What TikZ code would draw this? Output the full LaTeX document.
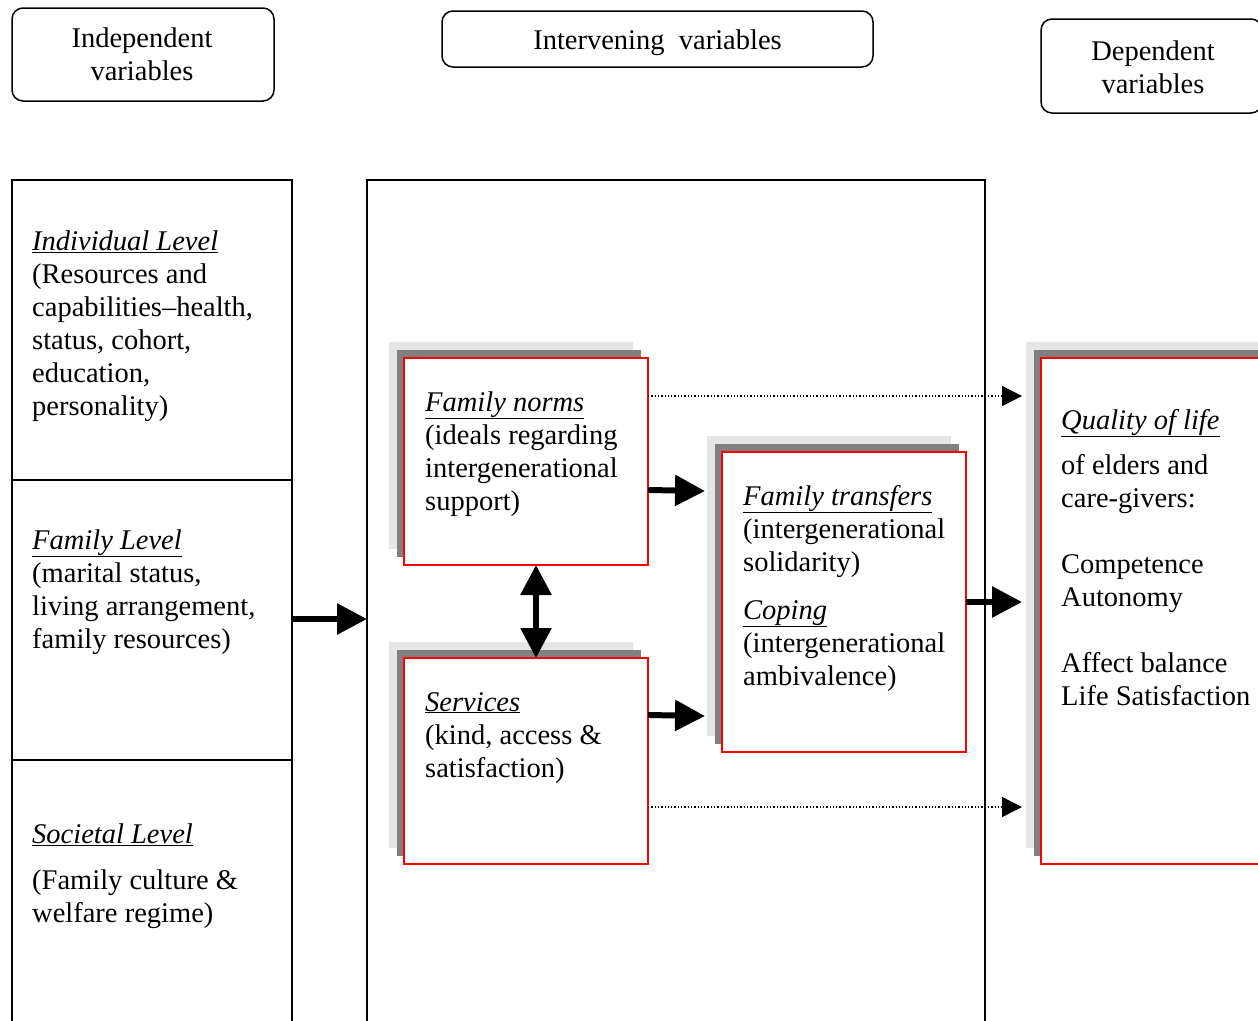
\documentclass[tikz,border=0pt]{standalone}
\usepackage{fontspec}
\setmainfont{Liberation Serif}
\usetikzlibrary{arrows.meta}
\newcommand\mybox[5]{%
  \node[lightsh, minimum width=#4, minimum height=#5] (#1l) at (#2-15,#3-16) {};
  \node[darksh, minimum width=#4, minimum height=#5] (#1d) at (#2-7,#3-8) {};
  \node[redbox, minimum width=#4, minimum height=#5] (#1) at (#2,#3) {};
}
\newcommand\lines[1]{\begin{tabular}[t]{@{}l@{}}#1\end{tabular}}
\begin{document}
\begin{tikzpicture}[x=1pt,y=-1pt,
  txt/.style={font=\fontsize{28.5}{33}\selectfont, inner sep=0pt, anchor=base west},
  hdr/.style={draw, line width=1.5, rounded corners=11, inner sep=0pt, outer sep=0pt},
  htxt/.style={font=\fontsize{28.5}{33}\selectfont, align=center, inner sep=0pt},
  col/.style={draw, line width=1.5, inner sep=0pt, outer sep=0pt},
  lightsh/.style={fill=black!10, inner sep=0pt, outer sep=0pt},
  darksh/.style={fill=black!50, inner sep=0pt, outer sep=0pt},
  redbox/.style={draw=red, line width=2, fill=white, inner sep=0pt, outer sep=0pt},
  thick arrow/.style={line width=6, -{Triangle[length=30,width=30]}},
  dbl arrow/.style={line width=6, {Triangle[length=30,width=30]}-{Triangle[length=30,width=30]}},
  dot arrow/.style={line width=1.3, dash pattern=on 1.3 off 2, -{Triangle[length=20,width=20]}},
]
\useasboundingbox (0,0) rectangle (1258,1020);
\clip (0,0) rectangle (1258,1020);
\fill[white] (0,0) rectangle (1258,1020);

% header boxes
\node[hdr, minimum width=262, minimum height=93] (ind) at (143,54.5) {};
\node[hdr, minimum width=431, minimum height=56] (int) at (657.5,39) {};
\node[hdr, minimum width=221, minimum height=94] (dep) at (1151.5,66) {};
\node[htxt] (indt) at (142,54.5) {Independent\\variables};
\node[htxt] (intt) at (657.5,43) {Intervening\ \ variables};
\node[htxt] (dept) at (1153,67) {Dependent\\variables};

% left column
\node[col, minimum width=280, minimum height=300] (lv1) at (152,330) {};
\node[col, minimum width=280, minimum height=280] (lv2) at (152,620) {};
\node[col, minimum width=280, minimum height=280] (lv3) at (152,900) {};
% middle box
\node[col, minimum width=618, minimum height=860] (mid) at (676,610) {};

\node[txt] (t1) at (32,250) {\lines{\underline{\textit{Individual Level}}\\(Resources and\\capabilities–health,\\status, cohort,\\education,\\personality)}};
\node[txt] (t2) at (32,549) {\lines{\underline{\textit{Family Level}}\\(marital status,\\living arrangement,\\family resources)}};
\node[txt] (t3) at (32,843) {\lines{\underline{\textit{Societal Level}}\\[13pt](Family culture \&\\welfare regime)}};

% shadowed boxes
\mybox{fn}{526}{461.5}{244}{207}
\mybox{sv}{526}{761}{244}{206}
\mybox{ft}{844}{602}{244}{300}
\mybox{ql}{1171}{611}{260}{506}

\node[txt] (t4) at (425,411) {\lines{\underline{\textit{Family norms}}\\(ideals regarding\\intergenerational\\support)}};
\node[txt] (t5) at (425,711) {\lines{\underline{\textit{Services}}\\(kind, access \&\\satisfaction)}};
\node[txt] (t6) at (743,505) {\lines{\underline{\textit{Family transfers}}\\(intergenerational\\solidarity)\\[15pt]\underline{\textit{Coping}}\\(intergenerational\\ambivalence)}};
\node[txt] (t7) at (1061,429) {\lines{\underline{\textit{Quality of life}}\\[12pt]of elders and\\care-givers:\\[33pt]Competence\\Autonomy\\[33pt]Affect balance\\Life Satisfaction}};

% connectors
\draw[thick arrow] (lv2.east |- 0,619) -- (mid.west |- 0,619);
\draw[thick arrow] (fn.east |- 0,490) -- ([xshift=-2]ftl.west |- 0,491);
\draw[thick arrow] (sv.east |- 0,715) -- ([xshift=-2]ftl.west |- 0,716);
\draw[thick arrow] (ft.east) -- ([xshift=-4]qll.west |- ft.east);
\draw[dbl arrow] ([xshift=10]fn.south) -- ([xshift=10]sv.north);
\draw[dot arrow] (fn.east |- 0,396) -- ([xshift=-4]qll.west |- 0,396);
\draw[dot arrow] (sv.east |- 0,807) -- ([xshift=-4]qll.west |- 0,807);
\end{tikzpicture}
\end{document}
